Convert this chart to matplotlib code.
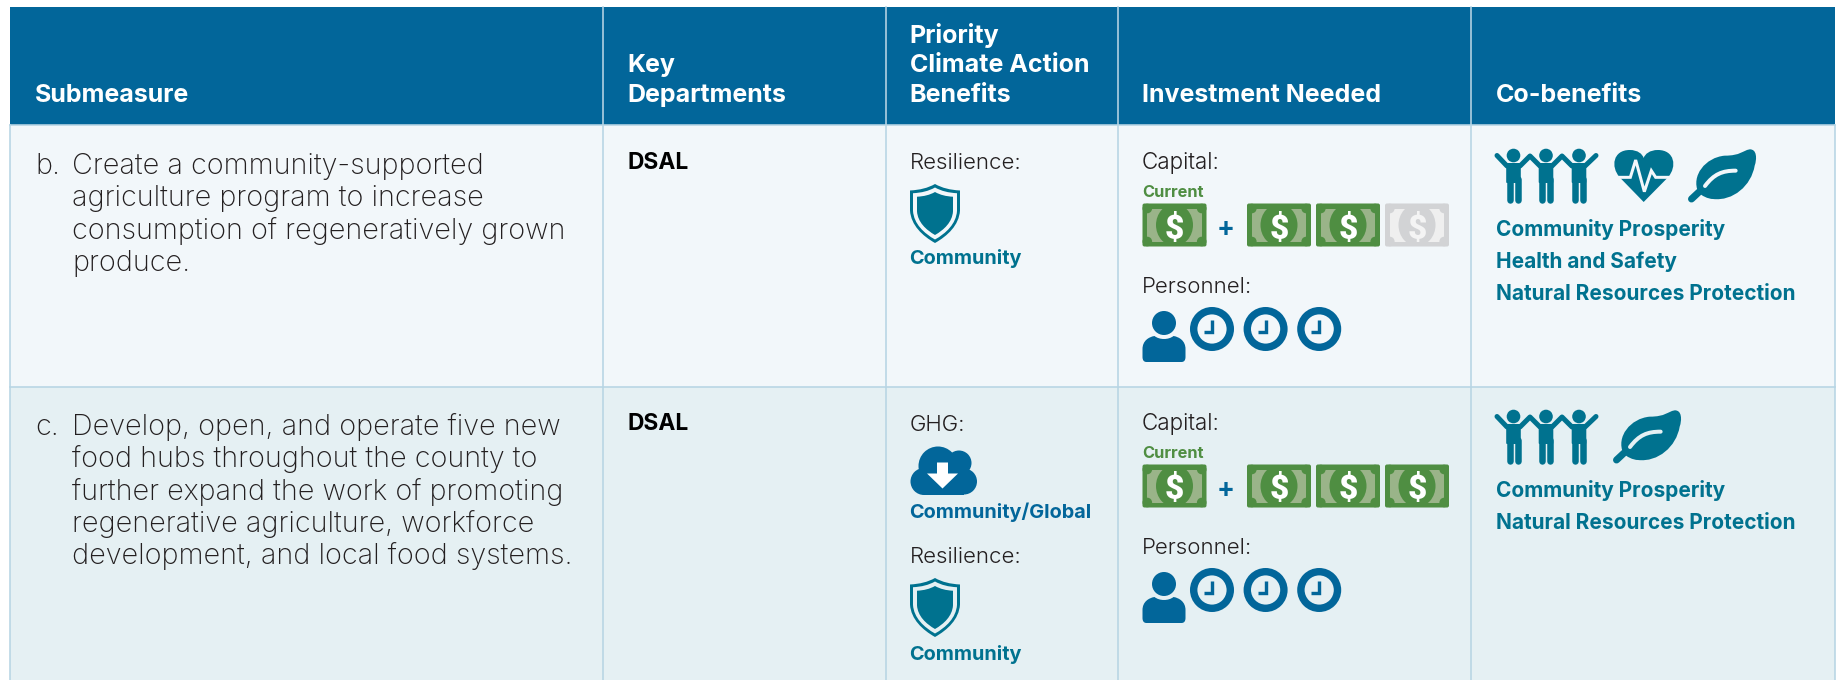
import matplotlib
matplotlib.use("Agg")
import matplotlib.pyplot as plt
from matplotlib.patches import Rectangle, Circle, Ellipse, PathPatch, FancyBboxPatch, Polygon
from matplotlib.path import Path

headers = [["Submeasure"], ["Key", "Departments"], ["Priority", "Climate Action", "Benefits"],
           ["Investment Needed"], ["Co-benefits"]]
letters = ["b.", "c."]
submeasures = [
    ["Create a community-supported", "agriculture program to increase",
     "consumption of regeneratively grown", "produce."],
    ["Develop, open, and operate five new", "food hubs throughout the county to",
     "further expand the work of promoting", "regenerative agriculture, workforce",
     "development, and local food systems."],
]
departments = ["DSAL", "DSAL"]
current_bills = [1, 1]
needed_filled = [2, 3]
needed_total = [3, 3]
personnel_clocks = [3, 3]
cobenefit_icons = [["people", "heart", "leaf"], ["people", "leaf"]]
cobenefit_names = [
    ["Community Prosperity", "Health and Safety", "Natural Resources Protection"],
    ["Community Prosperity", "Natural Resources Protection"],
]

BLUE = "#02669A"
TEAL = "#00728F"
GREEN = "#4F8E42"
LGREEN = "#9AB489"
GREY = "#D2D3D5"
LGREY = "#EFEFEF"
LINE = "#B7D5E4"
INK = "#231F20"
ROW_BG = ["#F2F7FA", "#E5F0F3"]
FONT = "Inter"

col_x = [10, 603, 886, 1118, 1471, 1835]
text_x = [35, 627.5, 909.5, 1142, 1496]
top, head_bottom, row_line, bottom = 7, 125, 386.5, 680
row_dy = [0, 261]

fig = plt.figure(figsize=(18.37, 6.8), dpi=100)
ax = fig.add_axes([0, 0, 1, 1])
ax.set_xlim(0, 1837)
ax.set_ylim(680, 0)
ax.axis("off")


def px(w):
    return w * 72 / 100


def light(x, y, s, size=20.7, color=INK, weight=200):
    ax.text(x, y + 1, s, fontsize=size, color=color, family=FONT, weight=weight, va="baseline", ha="left")


def bold(x, y, s, size, color):
    ax.text(x, y + 1, s, fontsize=size, color=color, family=FONT, weight="bold", va="baseline", ha="left")


def curve(pts, codes, color, lw=0, zorder=3):
    p = PathPatch(Path(pts, codes), fc=color, ec=color, lw=lw, zorder=zorder)
    ax.add_patch(p)


def shield(x, y, w, h, color):
    P = lambda a, b: (x + a * w, y + b * h)
    pts = [P(.5, 0), P(.35, .07), P(.2, .1), P(0, .11), P(0, .45), P(.02, .7), P(.25, .88), P(.5, 1),
           P(.75, .88), P(.98, .7), P(1, .45), P(1, .11), P(.8, .1), P(.65, .07), P(.5, 0)]
    C = Path.CURVE4
    codes = [Path.MOVETO, C, C, C, Path.LINETO, C, C, C, C, C, C, Path.LINETO, C, C, C]
    curve(pts, codes, color)


def shield_icon(x, y, bg):
    shield(x, y, 50, 59, TEAL)
    shield(x + 3, y + 3.5, 44, 52, bg)
    shield(x + 7, y + 8, 36, 43, TEAL)


def cloud_icon(x, y):
    for cx, cy, r in [(28, 19.5, 19.5), (49, 16.5, 12.5), (14, 35, 13.5), (54, 35, 13)]:
        ax.add_patch(Circle((x + cx, y + cy), r, fc=BLUE, ec="none", zorder=3))
    ax.add_patch(Rectangle((x + 14, y + 25), 40, 23.5, fc=BLUE, ec="none", zorder=3))
    arrow = [(27, 16), (38, 16), (38, 27), (48, 27), (32.5, 42), (17, 27), (27, 27)]
    ax.add_patch(Polygon([(x + a, y + b) for a, b in arrow], fc="white", ec="none", zorder=4))


def bill(x, y, filled=True):
    dark, pale, sign = (GREEN, LGREEN, "white") if filled else (GREY, LGREY, "#F4F4F4")
    ax.add_patch(FancyBboxPatch((x + 1, y + 1), 62, 41, boxstyle="round,pad=1,rounding_size=2",
                                fc=dark, ec="none", zorder=3))
    ax.add_patch(Rectangle((x + 4.8, y + 5), 54.4, 33, fc=pale, ec="none", zorder=4))
    for a in (4.8, 59.2):
        for b in (5, 38):
            ax.add_patch(Circle((x + a, y + b), 4.8, fc=dark, ec="none", zorder=5))
    ax.add_patch(Ellipse((x + 32, y + 21.5), 37, 42, fc=dark, ec="none", zorder=6))
    ax.text(x + 32, y + 21.5, "$", fontsize=24, color=sign, family="Roboto", weight=900,
            ha="center", va="center_baseline", zorder=7)


def person(x, y):
    ax.add_patch(Circle((x + 21.5, y + 12), 12, fc=BLUE, ec="none", zorder=3))
    C = Path.CURVE4
    pts = [(x, y + 46), (x, y + 38), (x, y + 30), (x + 6, y + 26), (x + 12, y + 25),
           (x + 17, y + 29), (x + 26, y + 29), (x + 31, y + 25), (x + 37, y + 26), (x + 43, y + 30),
           (x + 43, y + 38), (x + 43, y + 46), (x + 43, y + 51), (x + 39, y + 51), (x + 4, y + 51),
           (x, y + 51), (x, y + 46)]
    codes = [Path.MOVETO, Path.LINETO, C, C, C, C, C, C, C, C, C, Path.LINETO,
             Path.CURVE3, Path.CURVE3, Path.LINETO, Path.CURVE3, Path.CURVE3]
    curve(pts, codes, BLUE)


def clock(cx, cy):
    ax.add_patch(Circle((cx, cy), 18.3, fc="none", ec=BLUE, lw=px(7.4), zorder=3))
    ax.plot([cx, cx, cx - 8], [cy - 9, cy + 3, cy + 3], color=BLUE, lw=px(3.4), zorder=4,
            solid_joinstyle="miter", solid_capstyle="butt")


def people(x, y):
    for dx in (18.5, 51, 84):
        ax.add_patch(Circle((x + dx, y + 6.5), 6.8, fc=TEAL, ec="none", zorder=3))
        ax.add_patch(FancyBboxPatch((x + dx - 6.8, y + 14.5), 13.6, 19, boxstyle="round,pad=0.5,rounding_size=1",
                                    fc=TEAL, ec="none", zorder=3))
        for s in (-4, 4):
            ax.plot([x + dx + s] * 2, [y + 30, y + 50.5], color=TEAL, lw=px(6.5), zorder=3, solid_capstyle="round")
    arms = [[(2, 6.5), (12, 17)], [(25, 17), (35, 7), (45, 17)], [(57, 17), (67, 7), (77, 17)],
            [(90, 17), (101, 6.5)]]
    for arm in arms:
        ax.plot([x + a for a, _ in arm], [y + b for _, b in arm], color=TEAL, lw=px(5), zorder=3,
                solid_capstyle="round", solid_joinstyle="round")


def heart(x, y, bg):
    P = lambda a, b: (x + a / 3, y + b / 3)
    C = Path.CURVE4
    pts = [P(92, 156), P(20, 82), P(-8, 50), P(0, 0), P(50, 0), P(75, 0), P(88, 12), P(92, 24),
           P(96, 12), P(110, 0), P(135, 0), P(185, 0), P(193, 50), P(165, 82), P(92, 156)]
    codes = [Path.MOVETO, Path.LINETO, C, C, C, C, C, C, C, C, C, C, C, C, Path.LINETO]
    curve(pts, codes, TEAL)
    pulse = [P(-5, 82), P(52, 82), P(68, 30), P(94, 125), P(115, 62), P(128, 82), P(190, 82)]
    ax.plot([a for a, _ in pulse], [b for _, b in pulse], color=bg, lw=px(3), zorder=4, solid_joinstyle="miter")


def leaf(x, y, bg):
    P = lambda a, b: (x + a / 3, y + b / 3)
    C = Path.CURVE4
    pts = [P(28, 130), P(5, 80), P(50, 25), P(107, 20), P(155, 20), P(160, 5), P(182, 1),
           P(204, 0), P(204, 30), P(197, 50), P(187, 110), P(132, 157), P(72, 150),
           P(57, 150), P(37, 140), P(28, 130)]
    codes = [Path.MOVETO] + [C] * 15
    curve(pts, codes, TEAL)
    ax.plot([x + 2.5, x + 10], [y + 50, y + 43], color=TEAL, lw=px(7), zorder=3, solid_capstyle="round")
    t = [P(48, 111), P(75, 75), P(100, 65), P(140, 65)]
    p = PathPatch(Path(t, [Path.MOVETO, C, C, C]), fc="none", ec=bg, lw=px(4), capstyle="round", zorder=4)
    ax.add_patch(p)


# backgrounds and rules
ax.add_patch(Rectangle((col_x[0], top), col_x[-1] - col_x[0], head_bottom - top, fc=BLUE, ec="none"))
ax.add_patch(Rectangle((col_x[0], head_bottom), col_x[-1] - col_x[0], row_line - head_bottom, fc=ROW_BG[0], ec="none"))
ax.add_patch(Rectangle((col_x[0], row_line), col_x[-1] - col_x[0], bottom - row_line, fc=ROW_BG[1], ec="none"))
for x in col_x[1:-1]:
    ax.plot([x, x], [top, bottom], color=LINE, lw=px(1.6), zorder=1.5)
for x in (col_x[0], col_x[-1]):
    ax.plot([x, x], [head_bottom, bottom], color=LINE, lw=px(1.6), zorder=1.5)
ax.plot([col_x[0], col_x[-1]], [head_bottom, head_bottom], color=LINE, lw=px(1.6), zorder=1.5)
ax.plot([col_x[0], col_x[-1]], [row_line, row_line], color=LINE, lw=px(1.6), zorder=1.5)

# header
for x, lines in zip(text_x, headers):
    base = 100.7 - 29.3 * (len(lines) - 1)
    for i, s in enumerate(lines):
        bold(x, base + 29.3 * i, s, 18, "white")

for r in range(2):
    dy = row_dy[r]
    bg = ROW_BG[r]
    light(text_x[0], 173 + dy, letters[r])
    for i, s in enumerate(submeasures[r]):
        light(72, 173 + dy + 32.3 * i, s)
    bold(text_x[1], 168.3 + dy, departments[r], 16.4, "black")

    # investment column
    light(text_x[3], 168.3 + dy, "Capital:", 16.2, weight=300)
    bold(text_x[3], 196 + dy, "Current", 11.8, GREEN)
    for b in range(current_bills[r]):
        bill(1142.5, 203.5 + dy)
    ax.text(1226, 226 + dy, "+", fontsize=19, color=BLUE, family=FONT, weight="bold", ha="center", va="center_baseline")
    for b in range(needed_total[r]):
        bill(1247 + 69 * b, 203.5 + dy, b < needed_filled[r])
    light(text_x[3], 292.3 + dy, "Personnel:", 16, weight=300)
    person(1142.5, 311 + dy)
    for c in range(personnel_clocks[r]):
        clock(1212 + 53.6 * c, 329 + dy)

    # co-benefits column
    cx = 1495
    for name in cobenefit_icons[r]:
        if name == "people":
            people(cx, 149 + dy)
            cx += 118
        elif name == "heart":
            heart(cx, 150 + dy, bg)
            cx += 76
        else:
            leaf(cx if r == 0 else cx + 1, 149 + dy, bg)
    for i, s in enumerate(cobenefit_names[r]):
        bold(text_x[4], 235.3 + dy + 31.9 * i, s, 15, TEAL)

# climate benefit column
light(text_x[2], 168.3, "Resilience:", 16, weight=300)
shield_icon(910, 184, ROW_BG[0])
bold(text_x[2], 263.3, "Community", 14.3, TEAL)
light(text_x[2], 430, "GHG:", 16, weight=300)
cloud_icon(910, 446.5)
bold(text_x[2], 516.7, "Community/Global", 14.3, BLUE)
light(text_x[2], 561.7, "Resilience:", 16, weight=300)
shield_icon(910, 578, ROW_BG[1])
bold(text_x[2], 659.3, "Community", 14.3, TEAL)

fig.savefig("out.png", dpi=100)
